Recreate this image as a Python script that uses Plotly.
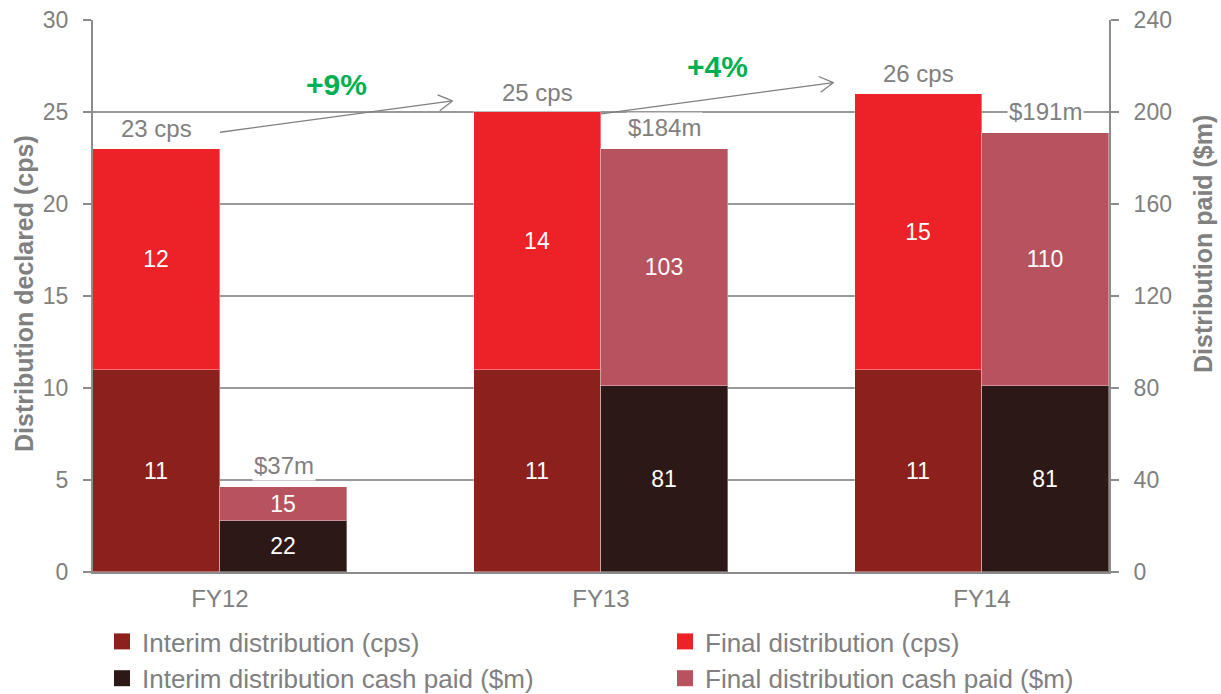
import math
import plotly.graph_objects as go

# Distribution data by financial year
years = ["FY12", "FY13", "FY14"]
interim_cps = [11, 11, 11]        # interim distribution declared (cents per security)
final_cps = [12, 14, 15]          # final distribution declared (cents per security)
interim_cash = [22, 81, 81]       # interim distribution cash paid ($m)
final_cash = [15, 103, 110]       # final distribution cash paid ($m)

total_cps = [a + b for a, b in zip(interim_cps, final_cps)]
total_cash = [a + b for a, b in zip(interim_cash, final_cash)]

# Figure geometry
W, H = 1221, 694
MARGIN = dict(l=93, r=112, t=20, b=122, autoexpand=False)
BAR_W = 1 / 3
X_RANGE = [-BAR_W, len(years) - 1 + BAR_W]
Y_RANGE = [0, 30]
Y2_RANGE = [0, 240]
PLOT_W = W - MARGIN["l"] - MARGIN["r"]
PLOT_H = H - MARGIN["t"] - MARGIN["b"]
PX_X = PLOT_W / (X_RANGE[1] - X_RANGE[0])
PX_Y = PLOT_H / (Y_RANGE[1] - Y_RANGE[0])

FONT = "Liberation Sans, Arial, sans-serif"
GREY = "#808080"
AXIS_GREY = "#8C8C8C"
GREEN = "#00B050"

C_INTERIM_CPS = "#8C201C"
C_FINAL_CPS = "#EC2228"
C_INTERIM_CASH = "#2D1818"
C_FINAL_CASH = "#B6535E"
EDGE = dict(color="rgba(255,255,255,0.35)", width=1)

pos = list(range(len(years)))
x_cps = [p - BAR_W / 2 for p in pos]
x_cash = [p + BAR_W / 2 for p in pos]

fig = go.Figure()


def seg(x, y, color, axis):
    return go.Bar(
        x=x, y=y, width=BAR_W, yaxis=axis,
        marker=dict(color=color, line=EDGE),
        text=[str(v) for v in y], textposition="inside",
        insidetextanchor="middle", textangle=0, constraintext="none",
        textfont=dict(color="white", size=23, family=FONT),
        showlegend=False, hoverinfo="skip",
    )


fig.add_trace(seg(x_cps, interim_cps, C_INTERIM_CPS, "y"))
fig.add_trace(seg(x_cps, final_cps, C_FINAL_CPS, "y"))
fig.add_trace(seg(x_cash, interim_cash, C_INTERIM_CASH, "y2"))
fig.add_trace(seg(x_cash, final_cash, C_FINAL_CASH, "y2"))

# Legend entries (two columns: interim on the left, final on the right)
legend_items = [
    ("Interim distribution (cps)", C_INTERIM_CPS, "legend", "g1"),
    ("Interim distribution cash paid ($m)", C_INTERIM_CASH, "legend", "g2"),
    ("Final distribution (cps)", C_FINAL_CPS, "legend2", "g3"),
    ("Final distribution cash paid ($m)", C_FINAL_CASH, "legend2", "g4"),
]
for name, color, leg, grp in legend_items:
    fig.add_trace(go.Scatter(
        x=[None], y=[None], mode="markers", name=name, legend=leg,
        legendgroup=grp,
        marker=dict(symbol="square", size=16, color=color),
        hoverinfo="skip",
    ))

annotations = []
shapes = []

# Total labels above each stacked bar
for xc, t in zip(x_cps, total_cps):
    annotations.append(dict(
        x=xc, y=t, xref="x", yref="y", text=f"{t} cps", showarrow=False,
        yanchor="middle", yshift=20, bgcolor="white",
        font=dict(size=24, color=GREY, family=FONT),
    ))
for xc, t in zip(x_cash, total_cash):
    annotations.append(dict(
        x=xc, y=t, xref="x", yref="y2", text=f"${t}m", showarrow=False,
        yanchor="middle", yshift=21, bgcolor="white",
        font=dict(size=24, color=GREY, family=FONT),
    ))

# Growth arrows between consecutive years' cps totals
BARB_LEN, BARB_ANG = 16, math.radians(30)
for i in range(len(years) - 1):
    x0 = pos[i]
    x1 = pos[i + 1] - 0.39
    y1 = total_cps[i + 1] + 0.6
    y0 = y1 - 1.7
    shapes.append(dict(
        type="line", xref="x", yref="y", x0=x0, y0=y0, x1=x1, y1=y1,
        line=dict(color=GREY, width=1.3), layer="above",
    ))
    dxp, dyp = (x1 - x0) * PX_X, (y1 - y0) * PX_Y
    back = math.atan2(-dyp, -dxp)
    for s in (-1, 1):
        a = back + s * BARB_ANG
        shapes.append(dict(
            type="line", xref="x", yref="y",
            xsizemode="pixel", ysizemode="pixel",
            xanchor=x1, yanchor=y1,
            x0=0, y0=0, x1=BARB_LEN * math.cos(a), y1=BARB_LEN * math.sin(a),
            line=dict(color=GREY, width=1.3), layer="above",
        ))
    growth = round((total_cps[i + 1] / total_cps[i] - 1) * 100)
    annotations.append(dict(
        x=(x0 + x1) / 2, y=(y0 + y1) / 2 + 1.75, xref="x", yref="y",
        text=f"<b>+{growth}%</b>", showarrow=False,
        font=dict(size=30, color=GREEN, family=FONT),
    ))

# Axis titles
annotations.append(dict(
    x=(24 - MARGIN["l"]) / PLOT_W, y=1 - (294 - MARGIN["t"]) / PLOT_H,
    xref="paper", yref="paper",
    text="<b>Distribution declared (cps)</b>", textangle=-90, showarrow=False,
    xanchor="center", yanchor="middle",
    font=dict(size=25, color=GREY, family=FONT),
))
annotations.append(dict(
    x=(1203 - MARGIN["l"]) / PLOT_W, y=1 - (244 - MARGIN["t"]) / PLOT_H,
    xref="paper", yref="paper",
    text="<b>Distribution paid ($m)</b>", textangle=-90, showarrow=False,
    xanchor="center", yanchor="middle",
    font=dict(size=25, color=GREY, family=FONT),
))

fig.update_layout(
    width=W, height=H,
    margin=MARGIN,
    paper_bgcolor="white", plot_bgcolor="white",
    barmode="stack", bargap=0,
    font=dict(family=FONT, color=GREY),
    hovermode=False,
    xaxis=dict(
        range=X_RANGE, tickvals=pos, ticktext=years,
        showline=True, linecolor=AXIS_GREY, linewidth=2,
        ticks="", showgrid=False, zeroline=False, automargin=False,
        tickfont=dict(size=24, color=GREY, family=FONT), tickangle=0,
        ticklabelstandoff=4,
    ),
    yaxis=dict(
        range=Y_RANGE, tick0=0, dtick=5, automargin=False,
        showgrid=True, gridcolor="#999999", gridwidth=1.5,
        showline=True, linecolor=AXIS_GREY, linewidth=2,
        ticks="outside", ticklen=8, tickwidth=2, tickcolor=AXIS_GREY,
        zeroline=False,
        tickfont=dict(size=23, color=GREY, family=FONT),
        ticklabelstandoff=10,
    ),
    yaxis2=dict(
        range=Y2_RANGE, tick0=0, dtick=40, overlaying="y", side="right",
        showgrid=False, zeroline=False, automargin=False,
        showline=True, linecolor=AXIS_GREY, linewidth=2,
        ticks="outside", ticklen=8, tickwidth=2, tickcolor=AXIS_GREY,
        tickfont=dict(size=23, color=GREY, family=FONT),
        ticklabelstandoff=10,
    ),
    legend=dict(
        xref="container", yref="container",
        x=102 / W, y=1 - 618 / H, xanchor="left", yanchor="top",
        font=dict(size=26, color=GREY, family=FONT),
        bgcolor="rgba(0,0,0,0)", itemsizing="trace",
        tracegroupgap=0, traceorder="grouped",
    ),
    legend2=dict(
        xref="container", yref="container",
        x=665 / W, y=1 - 618 / H, xanchor="left", yanchor="top",
        font=dict(size=26, color=GREY, family=FONT),
        bgcolor="rgba(0,0,0,0)", itemsizing="trace",
        tracegroupgap=0, traceorder="grouped",
    ),
    annotations=annotations,
    shapes=shapes,
)

fig.write_html("out.html")
